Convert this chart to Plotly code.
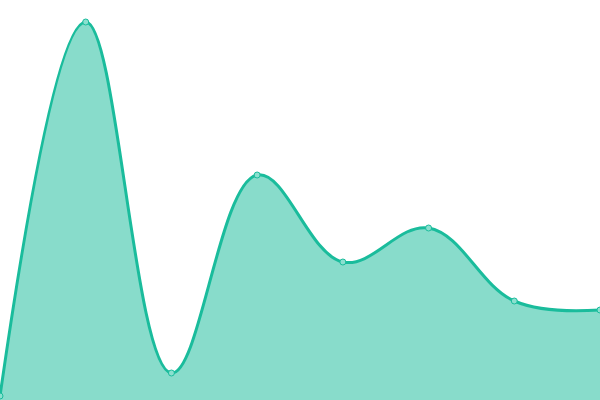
import plotly.graph_objects as go

# data points
x_vals = [0, 1, 2, 3, 4, 5, 6, 7]
y_vals = [1, 94.5, 6.75, 56.25, 34.5, 43, 24.75, 22.5]

line_color = '#1abc9c'
fill_color = 'rgba(26,188,156,0.52)'

fig = go.Figure()
fig.add_trace(go.Scatter(
    x=x_vals, y=y_vals,
    mode='lines+markers',
    line=dict(color=line_color, width=3, shape='spline', smoothing=1.1),
    fill='tozeroy', fillcolor=fill_color,
    marker=dict(size=6, color='#8be0cf', line=dict(color=line_color, width=1)),
    cliponaxis=False,
    hoverinfo='x+y',
))

fig.update_layout(
    width=600, height=400,
    margin=dict(l=0, r=0, t=0, b=0),
    paper_bgcolor='white', plot_bgcolor='white',
    showlegend=False,
    xaxis=dict(visible=False, range=[0, 7]),
    yaxis=dict(visible=False, range=[0, 100]),
)

# drop the default page margin so the chart sits flush in the window
fig.write_html("out.html", config={'displayModeBar': False},
               post_script="document.body.style.margin='0';")
